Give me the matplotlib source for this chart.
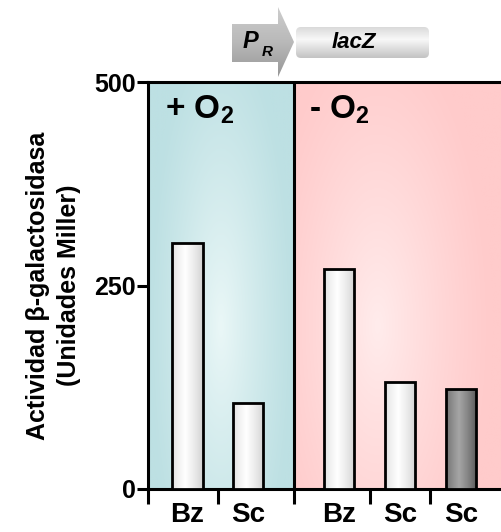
import numpy as np
import matplotlib
matplotlib.use('Agg')
import matplotlib.pyplot as plt
from matplotlib.patches import Polygon, FancyBboxPatch

plt.rcParams['font.family'] = ['Liberation Sans', 'DejaVu Sans']
plt.rcParams['font.weight'] = 'bold'
plt.rcParams['mathtext.fontset'] = 'custom'
plt.rcParams['mathtext.rm'] = 'Liberation Sans:bold'
plt.rcParams['mathtext.bf'] = 'Liberation Sans:bold'
plt.rcParams['mathtext.it'] = 'Liberation Sans:bold:italic'

# data
categories = ['Bz', 'Sc', 'Bz', 'Sc', 'Sc']
positions = [0, 1, 2.5, 3.5, 4.5]
values = [302, 106, 270, 131, 123]
dark = [False, False, False, False, True]
yticks = [0, 250, 500]
panel_split = 1.75
sep_ticks = [-0.65, 0.5, 1.75, 3.0, 4.0]

fig = plt.figure(figsize=(5.02, 5.32), dpi=100)
ax = fig.add_axes([148 / 502, 43 / 532, 354 / 502, 407 / 532])
xmin, xmax = -0.65, 5.18
ax.set_xlim(xmin, xmax)
ax.set_ylim(0, 500)


def radial(c_edge, c_center, cx, cy, sx, sy, n=200):
    xx, yy = np.meshgrid(np.linspace(0, 1, n), np.linspace(0, 1, n))
    r = np.sqrt(((xx - cx) / sx) ** 2 + ((yy - cy) / sy) ** 2)
    t = np.clip(1 - r, 0, 1) ** 1.2
    c_edge = np.array(c_edge) / 255
    c_center = np.array(c_center) / 255
    return c_edge + (c_center - c_edge) * t[..., None]


# background panels
ax.imshow(radial((189, 224, 227), (234, 247, 247), 0.5, 0.4, 0.5, 0.75),
          extent=[xmin, panel_split, 0, 500], origin='lower', aspect='auto', zorder=0)
ax.imshow(radial((255, 203, 203), (255, 236, 236), 0.4, 0.4, 0.55, 0.75),
          extent=[panel_split, xmax, 0, 500], origin='lower', aspect='auto', zorder=0)
ax.axvline(panel_split, color='black', lw=2.2, zorder=3)

# bars with horizontal gradient
w = 0.5
g = np.linspace(0, 1, 100)
prof = np.clip(1 - np.abs(g - 0.42) / 0.58, 0, 1) ** 0.7
for x, v, d in zip(positions, values, dark):
    if d:
        lo, hi = 80, 165
    else:
        lo, hi = 205, 255
    row = (lo + (hi - lo) * prof) / 255
    img = np.stack([row, row, row], axis=-1)[None, :, :]
    bar = ax.bar(x, v, width=w, color='none', edgecolor='black', lw=2, zorder=4)[0]
    im = ax.imshow(img, extent=[x - w / 2, x + w / 2, 0, v], aspect='auto', zorder=3)
    im.set_clip_path(bar)

# axes styling
ax.spines['right'].set_visible(False)
for s in ['left', 'bottom', 'top']:
    ax.spines[s].set_linewidth(2.2)
ax.set_yticks(yticks)
ax.set_yticklabels([str(t) for t in yticks], fontsize=18, fontweight='bold')
ax.tick_params(axis='y', length=8, width=2.2, pad=1)
ax.set_xticks(sep_ticks)
ax.set_xticklabels([''] * len(sep_ticks))
ax.tick_params(axis='x', which='major', length=11, width=2.2)
ax.set_xticks(positions, minor=True)
ax.set_xticklabels(categories, minor=True, fontsize=20, fontweight='bold')
ax.tick_params(axis='x', which='minor', length=0, pad=9)
ax.set_ylabel('Actividad β-galactosidasa\n(Unidades Miller)', fontsize=18,
              fontweight='bold', labelpad=9, linespacing=1.4)

ax.text(-0.37, 486, r'+ O$_{\mathbf{2}}$', fontsize=24, fontweight='bold', va='top', zorder=5)
ax.text(2.0, 486, r'- O$_{\mathbf{2}}$', fontsize=24, fontweight='bold', va='top', zorder=5)

# gene diagram overlay (pixel coordinates)
ov = fig.add_axes([0, 0, 1, 1], zorder=10)
ov.axis('off')
ov.patch.set_alpha(0)

arrow = Polygon([(232, 24), (278, 24), (278, 7), (294, 42), (278, 77), (278, 62), (232, 62)],
                closed=True, facecolor='none', edgecolor='none')
ov.add_patch(arrow)
gv = np.linspace(0, 1, 100)
col = np.interp(gv, [0, 0.5, 1], [205, 185, 150]) / 255
aimg = np.stack([col, col, col], axis=-1)[:, None, :]
im = ov.imshow(aimg, extent=[232, 294, 77, 7], aspect='auto', zorder=1)
im.set_clip_path(arrow)

box = FancyBboxPatch((296, 27), 133, 31, boxstyle='round,pad=0,rounding_size=5',
                     facecolor='none', edgecolor='none')
ov.add_patch(box)
bcol = np.interp(gv, [0, 0.4, 1], [218, 248, 195]) / 255
bimg = np.stack([bcol, bcol, bcol], axis=-1)[:, None, :]
im2 = ov.imshow(bimg, extent=[296, 429, 58, 27], aspect='auto', zorder=1)
im2.set_clip_path(box)
ov.set_xlim(0, 502)
ov.set_ylim(532, 0)

ov.text(243, 41, 'P', fontsize=17, fontweight='bold', style='italic', va='center', zorder=3)
ov.text(262, 52, 'R', fontsize=11, fontweight='bold', style='italic', va='center', zorder=3)
ov.text(354, 43, 'lacZ', fontsize=16, fontweight='bold', style='italic', ha='center',
        va='center', zorder=3)

fig.savefig('out.png', dpi=100)
